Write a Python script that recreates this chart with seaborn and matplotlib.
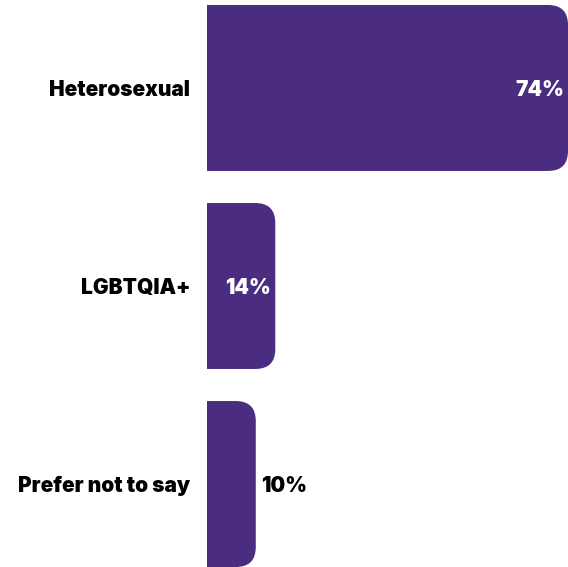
import matplotlib
matplotlib.use("Agg")
import matplotlib.pyplot as plt
from matplotlib.patches import FancyBboxPatch
import seaborn as sns

categories = ["Heterosexual", "LGBTQIA+", "Prefer not to say"]
values = [74, 14, 10]

PURPLE = "#4a2d80"
W, H = 568, 567
FS = 15

sns.set_style("white")
plt.rcParams['font.family'] = ['Inter', 'DejaVu Sans']

fig = plt.figure(figsize=(W / 100, H / 100), dpi=100)
ax = fig.add_axes([207 / W, 0, 361 / W, 562 / H])

sns.barplot(x=values, y=categories, orient="h", color=PURPLE,
            width=0.838, saturation=1, ax=ax)

ax.set_xlim(0, 74)
ax.set_ylim(2.419, -0.419)

# swap square bars for bars with rounded right ends
px_x = 361 / 74.0
px_y = 562 / 2.838
rad = 20
r_x = rad / px_x
asp = (rad / px_y) / r_x
for p in list(ax.patches):
    x, y, w, h = p.get_x(), p.get_y(), p.get_width(), p.get_height()
    p.remove()
    ax.add_patch(FancyBboxPatch((x - r_x, y), w + r_x, h,
                                boxstyle=f"round,pad=0,rounding_size={r_x}",
                                mutation_aspect=asp, fc=PURPLE, ec="none",
                                lw=0))

# value labels: inside when there is room, outside otherwise
for i, v in enumerate(values):
    if v >= 12:
        ax.annotate(f"{v}%", (v, i), xytext=(-3, -1.5), textcoords="offset points",
                    ha="right", va="center", color="white", fontsize=FS,
                    fontweight="black")
    else:
        ax.annotate(f"{v}%", (v, i), xytext=(3.5, -1.5), textcoords="offset points",
                    ha="left", va="center", color="black", fontsize=FS,
                    fontweight="black")

for s in ax.spines.values():
    s.set_visible(False)
ax.set_xticks([])
ax.set_xlabel("")
ax.set_ylabel("")
ax.tick_params(axis="y", length=0, pad=12)
for lab in ax.get_yticklabels():
    lab.set_fontsize(FS)
    lab.set_fontweight("black")
    lab.set_color("black")

fig.savefig("out.png", dpi=100)
